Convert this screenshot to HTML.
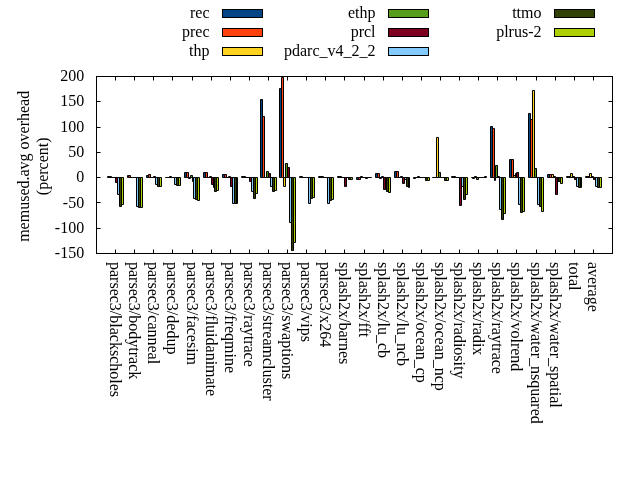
<!DOCTYPE html><html><head><meta charset="utf-8"><style>html,body{margin:0;padding:0;background:#fff;width:640px;height:480px;overflow:hidden;position:relative}</style></head><body><svg width="640" height="480" viewBox="0 0 640 480" style="position:absolute;left:0;top:0;will-change:transform"><rect width="640" height="480" fill="#fff"/><defs><clipPath id="c"><rect x="96.5" y="76.5" width="516.0" height="177.0"/></clipPath></defs><g clip-path="url(#c)"><path d="M107.5 176.5H109.5V177.5H107.5Z" fill="none" stroke="#000" stroke-width="1"/><path d="M127.5 175.5H128.5V177.5H127.5Z" fill="none" stroke="#000" stroke-width="1"/><rect x="146.5" y="175.5" width="2.0" height="2.0" fill="#004586"/><path d="M146.5 175.5H148.5V177.5H146.5Z" fill="none" stroke="#000" stroke-width="1"/><path d="M165.5 177.5H167.5V177.5H165.5Z" fill="none" stroke="#000" stroke-width="1"/><rect x="184.5" y="172.5" width="2.0" height="5.0" fill="#004586"/><path d="M184.5 172.5H186.5V177.5H184.5Z" fill="none" stroke="#000" stroke-width="1"/><rect x="203.5" y="172.5" width="2.0" height="5.0" fill="#004586"/><path d="M203.5 172.5H205.5V177.5H203.5Z" fill="none" stroke="#000" stroke-width="1"/><rect x="222.5" y="174.5" width="2.0" height="3.0" fill="#004586"/><path d="M222.5 174.5H224.5V177.5H222.5Z" fill="none" stroke="#000" stroke-width="1"/><path d="M241.5 176.5H243.5V177.5H241.5Z" fill="none" stroke="#000" stroke-width="1"/><rect x="260.5" y="99.5" width="2.0" height="78.0" fill="#004586"/><path d="M260.5 99.5H262.5V177.5H260.5Z" fill="none" stroke="#000" stroke-width="1"/><rect x="279.5" y="88.5" width="2.0" height="89.0" fill="#004586"/><path d="M279.5 88.5H281.5V177.5H279.5Z" fill="none" stroke="#000" stroke-width="1"/><path d="M299.5 176.5H300.5V177.5H299.5Z" fill="none" stroke="#000" stroke-width="1"/><path d="M318.5 176.5H320.5V177.5H318.5Z" fill="none" stroke="#000" stroke-width="1"/><path d="M337.5 176.5H339.5V177.5H337.5Z" fill="none" stroke="#000" stroke-width="1"/><rect x="356.5" y="177.5" width="2.0" height="2.0" fill="#004586"/><path d="M356.5 177.5H358.5V179.5H356.5Z" fill="none" stroke="#000" stroke-width="1"/><rect x="375.5" y="173.5" width="2.0" height="4.0" fill="#004586"/><path d="M375.5 173.5H377.5V177.5H375.5Z" fill="none" stroke="#000" stroke-width="1"/><rect x="394.5" y="171.5" width="2.0" height="6.0" fill="#004586"/><path d="M394.5 171.5H396.5V177.5H394.5Z" fill="none" stroke="#000" stroke-width="1"/><path d="M413.5 177.5H415.5V178.5H413.5Z" fill="none" stroke="#000" stroke-width="1"/><path d="M432.5 177.5H434.5V177.5H432.5Z" fill="none" stroke="#000" stroke-width="1"/><path d="M451.5 176.5H453.5V177.5H451.5Z" fill="none" stroke="#000" stroke-width="1"/><path d="M471.5 177.5H472.5V177.5H471.5Z" fill="none" stroke="#000" stroke-width="1"/><rect x="490.5" y="126.5" width="2.0" height="51.0" fill="#004586"/><path d="M490.5 126.5H492.5V177.5H490.5Z" fill="none" stroke="#000" stroke-width="1"/><rect x="509.5" y="159.5" width="2.0" height="18.0" fill="#004586"/><path d="M509.5 159.5H511.5V177.5H509.5Z" fill="none" stroke="#000" stroke-width="1"/><rect x="528.5" y="113.5" width="2.0" height="64.0" fill="#004586"/><path d="M528.5 113.5H530.5V177.5H528.5Z" fill="none" stroke="#000" stroke-width="1"/><rect x="547.5" y="174.5" width="2.0" height="3.0" fill="#004586"/><path d="M547.5 174.5H549.5V177.5H547.5Z" fill="none" stroke="#000" stroke-width="1"/><path d="M566.5 176.5H568.5V177.5H566.5Z" fill="none" stroke="#000" stroke-width="1"/><path d="M585.5 176.5H587.5V177.5H585.5Z" fill="none" stroke="#000" stroke-width="1"/><path d="M109.5 176.5H111.5V177.5H109.5Z" fill="none" stroke="#000" stroke-width="1"/><rect x="128.5" y="175.5" width="2.0" height="2.0" fill="#ff420e"/><path d="M128.5 175.5H130.5V177.5H128.5Z" fill="none" stroke="#000" stroke-width="1"/><rect x="148.5" y="174.5" width="2.0" height="3.0" fill="#ff420e"/><path d="M148.5 174.5H150.5V177.5H148.5Z" fill="none" stroke="#000" stroke-width="1"/><path d="M167.5 177.5H169.5V177.5H167.5Z" fill="none" stroke="#000" stroke-width="1"/><rect x="186.5" y="172.5" width="2.0" height="5.0" fill="#ff420e"/><path d="M186.5 172.5H188.5V177.5H186.5Z" fill="none" stroke="#000" stroke-width="1"/><rect x="205.5" y="172.5" width="2.0" height="5.0" fill="#ff420e"/><path d="M205.5 172.5H207.5V177.5H205.5Z" fill="none" stroke="#000" stroke-width="1"/><rect x="224.5" y="174.5" width="2.0" height="3.0" fill="#ff420e"/><path d="M224.5 174.5H226.5V177.5H224.5Z" fill="none" stroke="#000" stroke-width="1"/><path d="M243.5 176.5H245.5V177.5H243.5Z" fill="none" stroke="#000" stroke-width="1"/><rect x="262.5" y="116.5" width="2.0" height="61.0" fill="#ff420e"/><path d="M262.5 116.5H264.5V177.5H262.5Z" fill="none" stroke="#000" stroke-width="1"/><rect x="281.5" y="77.5" width="2.0" height="100.0" fill="#ff420e"/><path d="M281.5 77.5H283.5V177.5H281.5Z" fill="none" stroke="#000" stroke-width="1"/><path d="M300.5 176.5H302.5V177.5H300.5Z" fill="none" stroke="#000" stroke-width="1"/><path d="M320.5 176.5H322.5V177.5H320.5Z" fill="none" stroke="#000" stroke-width="1"/><path d="M339.5 176.5H341.5V177.5H339.5Z" fill="none" stroke="#000" stroke-width="1"/><rect x="358.5" y="177.5" width="2.0" height="2.0" fill="#ff420e"/><path d="M358.5 177.5H360.5V179.5H358.5Z" fill="none" stroke="#000" stroke-width="1"/><rect x="377.5" y="173.5" width="2.0" height="4.0" fill="#ff420e"/><path d="M377.5 173.5H379.5V177.5H377.5Z" fill="none" stroke="#000" stroke-width="1"/><rect x="396.5" y="171.5" width="2.0" height="6.0" fill="#ff420e"/><path d="M396.5 171.5H398.5V177.5H396.5Z" fill="none" stroke="#000" stroke-width="1"/><path d="M415.5 177.5H417.5V177.5H415.5Z" fill="none" stroke="#000" stroke-width="1"/><path d="M434.5 177.5H436.5V177.5H434.5Z" fill="none" stroke="#000" stroke-width="1"/><path d="M453.5 176.5H455.5V177.5H453.5Z" fill="none" stroke="#000" stroke-width="1"/><path d="M472.5 177.5H474.5V178.5H472.5Z" fill="none" stroke="#000" stroke-width="1"/><rect x="492.5" y="128.5" width="2.0" height="49.0" fill="#ff420e"/><path d="M492.5 128.5H494.5V177.5H492.5Z" fill="none" stroke="#000" stroke-width="1"/><rect x="511.5" y="159.5" width="2.0" height="18.0" fill="#ff420e"/><path d="M511.5 159.5H513.5V177.5H511.5Z" fill="none" stroke="#000" stroke-width="1"/><rect x="530.5" y="119.5" width="2.0" height="58.0" fill="#ff420e"/><path d="M530.5 119.5H532.5V177.5H530.5Z" fill="none" stroke="#000" stroke-width="1"/><rect x="549.5" y="174.5" width="2.0" height="3.0" fill="#ff420e"/><path d="M549.5 174.5H551.5V177.5H549.5Z" fill="none" stroke="#000" stroke-width="1"/><path d="M568.5 176.5H570.5V177.5H568.5Z" fill="none" stroke="#000" stroke-width="1"/><path d="M587.5 176.5H589.5V177.5H587.5Z" fill="none" stroke="#000" stroke-width="1"/><path d="M111.5 177.5H113.5V177.5H111.5Z" fill="none" stroke="#000" stroke-width="1"/><path d="M130.5 177.5H132.5V177.5H130.5Z" fill="none" stroke="#000" stroke-width="1"/><path d="M150.5 177.5H151.5V177.5H150.5Z" fill="none" stroke="#000" stroke-width="1"/><path d="M169.5 176.5H171.5V177.5H169.5Z" fill="none" stroke="#000" stroke-width="1"/><path d="M188.5 177.5H190.5V178.5H188.5Z" fill="none" stroke="#000" stroke-width="1"/><path d="M207.5 177.5H209.5V177.5H207.5Z" fill="none" stroke="#000" stroke-width="1"/><path d="M226.5 177.5H228.5V177.5H226.5Z" fill="none" stroke="#000" stroke-width="1"/><path d="M245.5 177.5H247.5V177.5H245.5Z" fill="none" stroke="#000" stroke-width="1"/><path d="M264.5 177.5H266.5V177.5H264.5Z" fill="none" stroke="#000" stroke-width="1"/><rect x="283.5" y="177.5" width="2.0" height="9.0" fill="#ffd320"/><path d="M283.5 177.5H285.5V186.5H283.5Z" fill="none" stroke="#000" stroke-width="1"/><path d="M302.5 177.5H304.5V177.5H302.5Z" fill="none" stroke="#000" stroke-width="1"/><path d="M322.5 176.5H323.5V177.5H322.5Z" fill="none" stroke="#000" stroke-width="1"/><path d="M341.5 177.5H343.5V177.5H341.5Z" fill="none" stroke="#000" stroke-width="1"/><path d="M360.5 176.5H362.5V177.5H360.5Z" fill="none" stroke="#000" stroke-width="1"/><path d="M379.5 177.5H381.5V178.5H379.5Z" fill="none" stroke="#000" stroke-width="1"/><path d="M398.5 177.5H400.5V177.5H398.5Z" fill="none" stroke="#000" stroke-width="1"/><path d="M417.5 176.5H419.5V177.5H417.5Z" fill="none" stroke="#000" stroke-width="1"/><rect x="436.5" y="137.5" width="2.0" height="40.0" fill="#ffd320"/><path d="M436.5 137.5H438.5V177.5H436.5Z" fill="none" stroke="#000" stroke-width="1"/><path d="M455.5 177.5H457.5V177.5H455.5Z" fill="none" stroke="#000" stroke-width="1"/><path d="M474.5 176.5H476.5V177.5H474.5Z" fill="none" stroke="#000" stroke-width="1"/><path d="M494.5 177.5H495.5V180.5H494.5Z" fill="none" stroke="#000" stroke-width="1"/><rect x="513.5" y="175.5" width="2.0" height="2.0" fill="#ffd320"/><path d="M513.5 175.5H515.5V177.5H513.5Z" fill="none" stroke="#000" stroke-width="1"/><rect x="532.5" y="90.5" width="2.0" height="87.0" fill="#ffd320"/><path d="M532.5 90.5H534.5V177.5H532.5Z" fill="none" stroke="#000" stroke-width="1"/><rect x="551.5" y="174.5" width="2.0" height="3.0" fill="#ffd320"/><path d="M551.5 174.5H553.5V177.5H551.5Z" fill="none" stroke="#000" stroke-width="1"/><rect x="570.5" y="173.5" width="2.0" height="4.0" fill="#ffd320"/><path d="M570.5 173.5H572.5V177.5H570.5Z" fill="none" stroke="#000" stroke-width="1"/><rect x="589.5" y="173.5" width="2.0" height="4.0" fill="#ffd320"/><path d="M589.5 173.5H591.5V177.5H589.5Z" fill="none" stroke="#000" stroke-width="1"/><path d="M113.5 177.5H115.5V177.5H113.5Z" fill="none" stroke="#000" stroke-width="1"/><path d="M132.5 177.5H134.5V177.5H132.5Z" fill="none" stroke="#000" stroke-width="1"/><path d="M151.5 177.5H153.5V177.5H151.5Z" fill="none" stroke="#000" stroke-width="1"/><path d="M171.5 177.5H172.5V177.5H171.5Z" fill="none" stroke="#000" stroke-width="1"/><rect x="190.5" y="175.5" width="2.0" height="2.0" fill="#579d1c"/><path d="M190.5 175.5H192.5V177.5H190.5Z" fill="none" stroke="#000" stroke-width="1"/><path d="M209.5 176.5H211.5V177.5H209.5Z" fill="none" stroke="#000" stroke-width="1"/><path d="M228.5 176.5H230.5V177.5H228.5Z" fill="none" stroke="#000" stroke-width="1"/><path d="M247.5 177.5H249.5V177.5H247.5Z" fill="none" stroke="#000" stroke-width="1"/><rect x="266.5" y="171.5" width="2.0" height="6.0" fill="#579d1c"/><path d="M266.5 171.5H268.5V177.5H266.5Z" fill="none" stroke="#000" stroke-width="1"/><rect x="285.5" y="163.5" width="2.0" height="14.0" fill="#579d1c"/><path d="M285.5 163.5H287.5V177.5H285.5Z" fill="none" stroke="#000" stroke-width="1"/><path d="M304.5 177.5H306.5V177.5H304.5Z" fill="none" stroke="#000" stroke-width="1"/><path d="M323.5 177.5H325.5V177.5H323.5Z" fill="none" stroke="#000" stroke-width="1"/><path d="M343.5 177.5H344.5V177.5H343.5Z" fill="none" stroke="#000" stroke-width="1"/><path d="M362.5 177.5H364.5V177.5H362.5Z" fill="none" stroke="#000" stroke-width="1"/><path d="M381.5 176.5H383.5V177.5H381.5Z" fill="none" stroke="#000" stroke-width="1"/><path d="M400.5 176.5H402.5V177.5H400.5Z" fill="none" stroke="#000" stroke-width="1"/><path d="M419.5 177.5H421.5V177.5H419.5Z" fill="none" stroke="#000" stroke-width="1"/><rect x="438.5" y="172.5" width="2.0" height="5.0" fill="#579d1c"/><path d="M438.5 172.5H440.5V177.5H438.5Z" fill="none" stroke="#000" stroke-width="1"/><path d="M457.5 177.5H459.5V177.5H457.5Z" fill="none" stroke="#000" stroke-width="1"/><rect x="476.5" y="177.5" width="2.0" height="2.0" fill="#579d1c"/><path d="M476.5 177.5H478.5V179.5H476.5Z" fill="none" stroke="#000" stroke-width="1"/><rect x="495.5" y="165.5" width="2.0" height="12.0" fill="#579d1c"/><path d="M495.5 165.5H497.5V177.5H495.5Z" fill="none" stroke="#000" stroke-width="1"/><path d="M515.5 173.5H516.5V177.5H515.5Z" fill="none" stroke="#000" stroke-width="1"/><rect x="534.5" y="168.5" width="2.0" height="9.0" fill="#579d1c"/><path d="M534.5 168.5H536.5V177.5H534.5Z" fill="none" stroke="#000" stroke-width="1"/><path d="M553.5 176.5H555.5V177.5H553.5Z" fill="none" stroke="#000" stroke-width="1"/><path d="M572.5 176.5H574.5V177.5H572.5Z" fill="none" stroke="#000" stroke-width="1"/><path d="M591.5 176.5H593.5V177.5H591.5Z" fill="none" stroke="#000" stroke-width="1"/><rect x="115.5" y="177.5" width="2.0" height="5.0" fill="#7e0021"/><path d="M115.5 177.5H117.5V182.5H115.5Z" fill="none" stroke="#000" stroke-width="1"/><path d="M134.5 177.5H136.5V177.5H134.5Z" fill="none" stroke="#000" stroke-width="1"/><path d="M153.5 176.5H155.5V177.5H153.5Z" fill="none" stroke="#000" stroke-width="1"/><path d="M172.5 177.5H174.5V177.5H172.5Z" fill="none" stroke="#000" stroke-width="1"/><path d="M192.5 177.5H193.5V181.5H192.5Z" fill="none" stroke="#000" stroke-width="1"/><rect x="211.5" y="177.5" width="2.0" height="7.0" fill="#7e0021"/><path d="M211.5 177.5H213.5V184.5H211.5Z" fill="none" stroke="#000" stroke-width="1"/><rect x="230.5" y="177.5" width="2.0" height="9.0" fill="#7e0021"/><path d="M230.5 177.5H232.5V186.5H230.5Z" fill="none" stroke="#000" stroke-width="1"/><rect x="249.5" y="177.5" width="2.0" height="4.0" fill="#7e0021"/><path d="M249.5 177.5H251.5V181.5H249.5Z" fill="none" stroke="#000" stroke-width="1"/><rect x="268.5" y="173.5" width="2.0" height="4.0" fill="#7e0021"/><path d="M268.5 173.5H270.5V177.5H268.5Z" fill="none" stroke="#000" stroke-width="1"/><rect x="287.5" y="167.5" width="2.0" height="10.0" fill="#7e0021"/><path d="M287.5 167.5H289.5V177.5H287.5Z" fill="none" stroke="#000" stroke-width="1"/><path d="M306.5 177.5H308.5V177.5H306.5Z" fill="none" stroke="#000" stroke-width="1"/><path d="M325.5 177.5H327.5V177.5H325.5Z" fill="none" stroke="#000" stroke-width="1"/><rect x="344.5" y="177.5" width="2.0" height="9.0" fill="#7e0021"/><path d="M344.5 177.5H346.5V186.5H344.5Z" fill="none" stroke="#000" stroke-width="1"/><path d="M364.5 177.5H365.5V177.5H364.5Z" fill="none" stroke="#000" stroke-width="1"/><rect x="383.5" y="177.5" width="2.0" height="12.0" fill="#7e0021"/><path d="M383.5 177.5H385.5V189.5H383.5Z" fill="none" stroke="#000" stroke-width="1"/><rect x="402.5" y="177.5" width="2.0" height="6.0" fill="#7e0021"/><path d="M402.5 177.5H404.5V183.5H402.5Z" fill="none" stroke="#000" stroke-width="1"/><path d="M421.5 177.5H423.5V177.5H421.5Z" fill="none" stroke="#000" stroke-width="1"/><path d="M440.5 177.5H442.5V177.5H440.5Z" fill="none" stroke="#000" stroke-width="1"/><rect x="459.5" y="177.5" width="2.0" height="28.0" fill="#7e0021"/><path d="M459.5 177.5H461.5V205.5H459.5Z" fill="none" stroke="#000" stroke-width="1"/><path d="M478.5 177.5H480.5V177.5H478.5Z" fill="none" stroke="#000" stroke-width="1"/><path d="M497.5 176.5H499.5V177.5H497.5Z" fill="none" stroke="#000" stroke-width="1"/><rect x="516.5" y="172.5" width="2.0" height="5.0" fill="#7e0021"/><path d="M516.5 172.5H518.5V177.5H516.5Z" fill="none" stroke="#000" stroke-width="1"/><path d="M536.5 177.5H537.5V177.5H536.5Z" fill="none" stroke="#000" stroke-width="1"/><rect x="555.5" y="177.5" width="2.0" height="17.0" fill="#7e0021"/><path d="M555.5 177.5H557.5V194.5H555.5Z" fill="none" stroke="#000" stroke-width="1"/><rect x="574.5" y="177.5" width="2.0" height="2.0" fill="#7e0021"/><path d="M574.5 177.5H576.5V179.5H574.5Z" fill="none" stroke="#000" stroke-width="1"/><rect x="593.5" y="177.5" width="2.0" height="2.0" fill="#7e0021"/><path d="M593.5 177.5H595.5V179.5H593.5Z" fill="none" stroke="#000" stroke-width="1"/><rect x="117.5" y="177.5" width="2.0" height="17.0" fill="#83caff"/><path d="M117.5 177.5H119.5V194.5H117.5Z" fill="none" stroke="#000" stroke-width="1"/><rect x="136.5" y="177.5" width="2.0" height="29.0" fill="#83caff"/><path d="M136.5 177.5H138.5V206.5H136.5Z" fill="none" stroke="#000" stroke-width="1"/><rect x="155.5" y="177.5" width="2.0" height="7.0" fill="#83caff"/><path d="M155.5 177.5H157.5V184.5H155.5Z" fill="none" stroke="#000" stroke-width="1"/><rect x="174.5" y="177.5" width="2.0" height="7.0" fill="#83caff"/><path d="M174.5 177.5H176.5V184.5H174.5Z" fill="none" stroke="#000" stroke-width="1"/><rect x="193.5" y="177.5" width="2.0" height="21.0" fill="#83caff"/><path d="M193.5 177.5H195.5V198.5H193.5Z" fill="none" stroke="#000" stroke-width="1"/><path d="M213.5 177.5H214.5V187.5H213.5Z" fill="none" stroke="#000" stroke-width="1"/><rect x="232.5" y="177.5" width="2.0" height="26.0" fill="#83caff"/><path d="M232.5 177.5H234.5V203.5H232.5Z" fill="none" stroke="#000" stroke-width="1"/><rect x="251.5" y="177.5" width="2.0" height="14.0" fill="#83caff"/><path d="M251.5 177.5H253.5V191.5H251.5Z" fill="none" stroke="#000" stroke-width="1"/><rect x="270.5" y="177.5" width="2.0" height="9.0" fill="#83caff"/><path d="M270.5 177.5H272.5V186.5H270.5Z" fill="none" stroke="#000" stroke-width="1"/><rect x="289.5" y="177.5" width="2.0" height="45.0" fill="#83caff"/><path d="M289.5 177.5H291.5V222.5H289.5Z" fill="none" stroke="#000" stroke-width="1"/><rect x="308.5" y="177.5" width="2.0" height="26.0" fill="#83caff"/><path d="M308.5 177.5H310.5V203.5H308.5Z" fill="none" stroke="#000" stroke-width="1"/><rect x="327.5" y="177.5" width="2.0" height="26.0" fill="#83caff"/><path d="M327.5 177.5H329.5V203.5H327.5Z" fill="none" stroke="#000" stroke-width="1"/><path d="M346.5 177.5H348.5V177.5H346.5Z" fill="none" stroke="#000" stroke-width="1"/><path d="M365.5 177.5H367.5V178.5H365.5Z" fill="none" stroke="#000" stroke-width="1"/><path d="M385.5 177.5H386.5V189.5H385.5Z" fill="none" stroke="#000" stroke-width="1"/><rect x="404.5" y="177.5" width="2.0" height="2.0" fill="#83caff"/><path d="M404.5 177.5H406.5V179.5H404.5Z" fill="none" stroke="#000" stroke-width="1"/><path d="M423.5 177.5H425.5V177.5H423.5Z" fill="none" stroke="#000" stroke-width="1"/><path d="M442.5 177.5H444.5V177.5H442.5Z" fill="none" stroke="#000" stroke-width="1"/><rect x="461.5" y="177.5" width="2.0" height="9.0" fill="#83caff"/><path d="M461.5 177.5H463.5V186.5H461.5Z" fill="none" stroke="#000" stroke-width="1"/><path d="M480.5 177.5H482.5V177.5H480.5Z" fill="none" stroke="#000" stroke-width="1"/><rect x="499.5" y="177.5" width="2.0" height="32.0" fill="#83caff"/><path d="M499.5 177.5H501.5V209.5H499.5Z" fill="none" stroke="#000" stroke-width="1"/><rect x="518.5" y="177.5" width="2.0" height="27.0" fill="#83caff"/><path d="M518.5 177.5H520.5V204.5H518.5Z" fill="none" stroke="#000" stroke-width="1"/><rect x="537.5" y="177.5" width="2.0" height="27.0" fill="#83caff"/><path d="M537.5 177.5H539.5V204.5H537.5Z" fill="none" stroke="#000" stroke-width="1"/><path d="M557.5 177.5H558.5V181.5H557.5Z" fill="none" stroke="#000" stroke-width="1"/><rect x="576.5" y="177.5" width="2.0" height="9.0" fill="#83caff"/><path d="M576.5 177.5H578.5V186.5H576.5Z" fill="none" stroke="#000" stroke-width="1"/><rect x="595.5" y="177.5" width="2.0" height="9.0" fill="#83caff"/><path d="M595.5 177.5H597.5V186.5H595.5Z" fill="none" stroke="#000" stroke-width="1"/><rect x="119.5" y="177.5" width="2.0" height="29.0" fill="#314004"/><path d="M119.5 177.5H121.5V206.5H119.5Z" fill="none" stroke="#000" stroke-width="1"/><rect x="138.5" y="177.5" width="2.0" height="30.0" fill="#314004"/><path d="M138.5 177.5H140.5V207.5H138.5Z" fill="none" stroke="#000" stroke-width="1"/><rect x="157.5" y="177.5" width="2.0" height="9.0" fill="#314004"/><path d="M157.5 177.5H159.5V186.5H157.5Z" fill="none" stroke="#000" stroke-width="1"/><rect x="176.5" y="177.5" width="2.0" height="8.0" fill="#314004"/><path d="M176.5 177.5H178.5V185.5H176.5Z" fill="none" stroke="#000" stroke-width="1"/><rect x="195.5" y="177.5" width="2.0" height="22.0" fill="#314004"/><path d="M195.5 177.5H197.5V199.5H195.5Z" fill="none" stroke="#000" stroke-width="1"/><rect x="214.5" y="177.5" width="2.0" height="14.0" fill="#314004"/><path d="M214.5 177.5H216.5V191.5H214.5Z" fill="none" stroke="#000" stroke-width="1"/><rect x="234.5" y="177.5" width="2.0" height="26.0" fill="#314004"/><path d="M234.5 177.5H236.5V203.5H234.5Z" fill="none" stroke="#000" stroke-width="1"/><rect x="253.5" y="177.5" width="2.0" height="21.0" fill="#314004"/><path d="M253.5 177.5H255.5V198.5H253.5Z" fill="none" stroke="#000" stroke-width="1"/><rect x="272.5" y="177.5" width="2.0" height="14.0" fill="#314004"/><path d="M272.5 177.5H274.5V191.5H272.5Z" fill="none" stroke="#000" stroke-width="1"/><rect x="291.5" y="177.5" width="2.0" height="73.0" fill="#314004"/><path d="M291.5 177.5H293.5V250.5H291.5Z" fill="none" stroke="#000" stroke-width="1"/><rect x="310.5" y="177.5" width="2.0" height="21.0" fill="#314004"/><path d="M310.5 177.5H312.5V198.5H310.5Z" fill="none" stroke="#000" stroke-width="1"/><rect x="329.5" y="177.5" width="2.0" height="23.0" fill="#314004"/><path d="M329.5 177.5H331.5V200.5H329.5Z" fill="none" stroke="#000" stroke-width="1"/><rect x="348.5" y="177.5" width="2.0" height="2.0" fill="#314004"/><path d="M348.5 177.5H350.5V179.5H348.5Z" fill="none" stroke="#000" stroke-width="1"/><path d="M367.5 177.5H369.5V177.5H367.5Z" fill="none" stroke="#000" stroke-width="1"/><rect x="386.5" y="177.5" width="2.0" height="14.0" fill="#314004"/><path d="M386.5 177.5H388.5V191.5H386.5Z" fill="none" stroke="#000" stroke-width="1"/><rect x="406.5" y="177.5" width="2.0" height="9.0" fill="#314004"/><path d="M406.5 177.5H408.5V186.5H406.5Z" fill="none" stroke="#000" stroke-width="1"/><rect x="425.5" y="177.5" width="2.0" height="3.0" fill="#314004"/><path d="M425.5 177.5H427.5V180.5H425.5Z" fill="none" stroke="#000" stroke-width="1"/><rect x="444.5" y="177.5" width="2.0" height="3.0" fill="#314004"/><path d="M444.5 177.5H446.5V180.5H444.5Z" fill="none" stroke="#000" stroke-width="1"/><rect x="463.5" y="177.5" width="2.0" height="22.0" fill="#314004"/><path d="M463.5 177.5H465.5V199.5H463.5Z" fill="none" stroke="#000" stroke-width="1"/><path d="M482.5 177.5H484.5V177.5H482.5Z" fill="none" stroke="#000" stroke-width="1"/><rect x="501.5" y="177.5" width="2.0" height="42.0" fill="#314004"/><path d="M501.5 177.5H503.5V219.5H501.5Z" fill="none" stroke="#000" stroke-width="1"/><rect x="520.5" y="177.5" width="2.0" height="35.0" fill="#314004"/><path d="M520.5 177.5H522.5V212.5H520.5Z" fill="none" stroke="#000" stroke-width="1"/><rect x="539.5" y="177.5" width="2.0" height="29.0" fill="#314004"/><path d="M539.5 177.5H541.5V206.5H539.5Z" fill="none" stroke="#000" stroke-width="1"/><rect x="558.5" y="177.5" width="2.0" height="4.0" fill="#314004"/><path d="M558.5 177.5H560.5V181.5H558.5Z" fill="none" stroke="#000" stroke-width="1"/><rect x="578.5" y="177.5" width="2.0" height="10.0" fill="#314004"/><path d="M578.5 177.5H580.5V187.5H578.5Z" fill="none" stroke="#000" stroke-width="1"/><rect x="597.5" y="177.5" width="2.0" height="10.0" fill="#314004"/><path d="M597.5 177.5H599.5V187.5H597.5Z" fill="none" stroke="#000" stroke-width="1"/><rect x="121.5" y="177.5" width="2.0" height="27.0" fill="#aecf00"/><path d="M121.5 177.5H123.5V204.5H121.5Z" fill="none" stroke="#000" stroke-width="1"/><rect x="140.5" y="177.5" width="2.0" height="30.0" fill="#aecf00"/><path d="M140.5 177.5H142.5V207.5H140.5Z" fill="none" stroke="#000" stroke-width="1"/><rect x="159.5" y="177.5" width="2.0" height="9.0" fill="#aecf00"/><path d="M159.5 177.5H161.5V186.5H159.5Z" fill="none" stroke="#000" stroke-width="1"/><rect x="178.5" y="177.5" width="2.0" height="8.0" fill="#aecf00"/><path d="M178.5 177.5H180.5V185.5H178.5Z" fill="none" stroke="#000" stroke-width="1"/><rect x="197.5" y="177.5" width="2.0" height="23.0" fill="#aecf00"/><path d="M197.5 177.5H199.5V200.5H197.5Z" fill="none" stroke="#000" stroke-width="1"/><rect x="216.5" y="177.5" width="2.0" height="13.0" fill="#aecf00"/><path d="M216.5 177.5H218.5V190.5H216.5Z" fill="none" stroke="#000" stroke-width="1"/><path d="M236.5 177.5H237.5V203.5H236.5Z" fill="none" stroke="#000" stroke-width="1"/><rect x="255.5" y="177.5" width="2.0" height="16.0" fill="#aecf00"/><path d="M255.5 177.5H257.5V193.5H255.5Z" fill="none" stroke="#000" stroke-width="1"/><rect x="274.5" y="177.5" width="2.0" height="13.0" fill="#aecf00"/><path d="M274.5 177.5H276.5V190.5H274.5Z" fill="none" stroke="#000" stroke-width="1"/><rect x="293.5" y="177.5" width="2.0" height="65.0" fill="#aecf00"/><path d="M293.5 177.5H295.5V242.5H293.5Z" fill="none" stroke="#000" stroke-width="1"/><rect x="312.5" y="177.5" width="2.0" height="20.0" fill="#aecf00"/><path d="M312.5 177.5H314.5V197.5H312.5Z" fill="none" stroke="#000" stroke-width="1"/><rect x="331.5" y="177.5" width="2.0" height="22.0" fill="#aecf00"/><path d="M331.5 177.5H333.5V199.5H331.5Z" fill="none" stroke="#000" stroke-width="1"/><rect x="350.5" y="177.5" width="2.0" height="2.0" fill="#aecf00"/><path d="M350.5 177.5H352.5V179.5H350.5Z" fill="none" stroke="#000" stroke-width="1"/><path d="M369.5 177.5H371.5V177.5H369.5Z" fill="none" stroke="#000" stroke-width="1"/><rect x="388.5" y="177.5" width="2.0" height="15.0" fill="#aecf00"/><path d="M388.5 177.5H390.5V192.5H388.5Z" fill="none" stroke="#000" stroke-width="1"/><path d="M408.5 177.5H409.5V187.5H408.5Z" fill="none" stroke="#000" stroke-width="1"/><rect x="427.5" y="177.5" width="2.0" height="3.0" fill="#aecf00"/><path d="M427.5 177.5H429.5V180.5H427.5Z" fill="none" stroke="#000" stroke-width="1"/><rect x="446.5" y="177.5" width="2.0" height="3.0" fill="#aecf00"/><path d="M446.5 177.5H448.5V180.5H446.5Z" fill="none" stroke="#000" stroke-width="1"/><rect x="465.5" y="177.5" width="2.0" height="17.0" fill="#aecf00"/><path d="M465.5 177.5H467.5V194.5H465.5Z" fill="none" stroke="#000" stroke-width="1"/><path d="M484.5 176.5H486.5V177.5H484.5Z" fill="none" stroke="#000" stroke-width="1"/><rect x="503.5" y="177.5" width="2.0" height="36.0" fill="#aecf00"/><path d="M503.5 177.5H505.5V213.5H503.5Z" fill="none" stroke="#000" stroke-width="1"/><rect x="522.5" y="177.5" width="2.0" height="34.0" fill="#aecf00"/><path d="M522.5 177.5H524.5V211.5H522.5Z" fill="none" stroke="#000" stroke-width="1"/><rect x="541.5" y="177.5" width="2.0" height="34.0" fill="#aecf00"/><path d="M541.5 177.5H543.5V211.5H541.5Z" fill="none" stroke="#000" stroke-width="1"/><rect x="560.5" y="177.5" width="2.0" height="6.0" fill="#aecf00"/><path d="M560.5 177.5H562.5V183.5H560.5Z" fill="none" stroke="#000" stroke-width="1"/><path d="M580.5 177.5H581.5V187.5H580.5Z" fill="none" stroke="#000" stroke-width="1"/><rect x="599.5" y="177.5" width="2.0" height="10.0" fill="#aecf00"/><path d="M599.5 177.5H601.5V187.5H599.5Z" fill="none" stroke="#000" stroke-width="1"/></g><rect x="96.5" y="76.5" width="516.0" height="177.0" fill="none" stroke="#000" stroke-width="1"/><path d="M96.5 253.5h4M612.5 253.5h-4M96.5 228.5h4M612.5 228.5h-4M96.5 202.5h4M612.5 202.5h-4M96.5 177.5h4M612.5 177.5h-4M96.5 152.5h4M612.5 152.5h-4M96.5 127.5h4M612.5 127.5h-4M96.5 101.5h4M612.5 101.5h-4M96.5 76.5h4M612.5 76.5h-4M115.5 253.5v-4M115.5 76.5v4M134.5 253.5v-4M134.5 76.5v4M153.5 253.5v-4M153.5 76.5v4M172.5 253.5v-4M172.5 76.5v4M192.5 253.5v-4M192.5 76.5v4M211.5 253.5v-4M211.5 76.5v4M230.5 253.5v-4M230.5 76.5v4M249.5 253.5v-4M249.5 76.5v4M268.5 253.5v-4M268.5 76.5v4M287.5 253.5v-4M287.5 76.5v4M306.5 253.5v-4M306.5 76.5v4M325.5 253.5v-4M325.5 76.5v4M344.5 253.5v-4M344.5 76.5v4M364.5 253.5v-4M364.5 76.5v4M383.5 253.5v-4M383.5 76.5v4M402.5 253.5v-4M402.5 76.5v4M421.5 253.5v-4M421.5 76.5v4M440.5 253.5v-4M440.5 76.5v4M459.5 253.5v-4M459.5 76.5v4M478.5 253.5v-4M478.5 76.5v4M497.5 253.5v-4M497.5 76.5v4M516.5 253.5v-4M516.5 76.5v4M536.5 253.5v-4M536.5 76.5v4M555.5 253.5v-4M555.5 76.5v4M574.5 253.5v-4M574.5 76.5v4M593.5 253.5v-4M593.5 76.5v4" stroke="#000" stroke-width="1" fill="none"/><text x="84.2" y="258.1" text-anchor="end" font-family='"Liberation Serif", serif' font-size="16">-150</text><text x="84.2" y="232.8" text-anchor="end" font-family='"Liberation Serif", serif' font-size="16">-100</text><text x="84.2" y="207.5" text-anchor="end" font-family='"Liberation Serif", serif' font-size="16">-50</text><text x="84.2" y="182.2" text-anchor="end" font-family='"Liberation Serif", serif' font-size="16">0</text><text x="84.2" y="157.0" text-anchor="end" font-family='"Liberation Serif", serif' font-size="16">50</text><text x="84.2" y="131.7" text-anchor="end" font-family='"Liberation Serif", serif' font-size="16">100</text><text x="84.2" y="106.4" text-anchor="end" font-family='"Liberation Serif", serif' font-size="16">150</text><text x="84.2" y="81.1" text-anchor="end" font-family='"Liberation Serif", serif' font-size="16">200</text><text transform="translate(110.3,262) rotate(90)" font-family='"Liberation Serif", serif' font-size="16">parsec3/blackscholes</text><text transform="translate(129.3,262) rotate(90)" font-family='"Liberation Serif", serif' font-size="16">parsec3/bodytrack</text><text transform="translate(148.3,262) rotate(90)" font-family='"Liberation Serif", serif' font-size="16">parsec3/canneal</text><text transform="translate(167.3,262) rotate(90)" font-family='"Liberation Serif", serif' font-size="16">parsec3/dedup</text><text transform="translate(187.3,262) rotate(90)" font-family='"Liberation Serif", serif' font-size="16">parsec3/facesim</text><text transform="translate(206.3,262) rotate(90)" font-family='"Liberation Serif", serif' font-size="16">parsec3/fluidanimate</text><text transform="translate(225.3,262) rotate(90)" font-family='"Liberation Serif", serif' font-size="16">parsec3/freqmine</text><text transform="translate(244.3,262) rotate(90)" font-family='"Liberation Serif", serif' font-size="16">parsec3/raytrace</text><text transform="translate(263.3,262) rotate(90)" font-family='"Liberation Serif", serif' font-size="16">parsec3/streamcluster</text><text transform="translate(282.3,262) rotate(90)" font-family='"Liberation Serif", serif' font-size="16">parsec3/swaptions</text><text transform="translate(301.3,262) rotate(90)" font-family='"Liberation Serif", serif' font-size="16">parsec3/vips</text><text transform="translate(320.3,262) rotate(90)" font-family='"Liberation Serif", serif' font-size="16">parsec3/x264</text><text transform="translate(339.3,262) rotate(90)" font-family='"Liberation Serif", serif' font-size="16">splash2x/barnes</text><text transform="translate(359.3,262) rotate(90)" font-family='"Liberation Serif", serif' font-size="16">splash2x/fft</text><text transform="translate(378.3,262) rotate(90)" font-family='"Liberation Serif", serif' font-size="16">splash2x/lu_cb</text><text transform="translate(397.3,262) rotate(90)" font-family='"Liberation Serif", serif' font-size="16">splash2x/lu_ncb</text><text transform="translate(416.3,262) rotate(90)" font-family='"Liberation Serif", serif' font-size="16">splash2x/ocean_cp</text><text transform="translate(435.3,262) rotate(90)" font-family='"Liberation Serif", serif' font-size="16">splash2x/ocean_ncp</text><text transform="translate(454.3,262) rotate(90)" font-family='"Liberation Serif", serif' font-size="16">splash2x/radiosity</text><text transform="translate(473.3,262) rotate(90)" font-family='"Liberation Serif", serif' font-size="16">splash2x/radix</text><text transform="translate(492.3,262) rotate(90)" font-family='"Liberation Serif", serif' font-size="16">splash2x/raytrace</text><text transform="translate(511.3,262) rotate(90)" font-family='"Liberation Serif", serif' font-size="16">splash2x/volrend</text><text transform="translate(531.3,262) rotate(90)" font-family='"Liberation Serif", serif' font-size="16">splash2x/water_nsquared</text><text transform="translate(550.3,262) rotate(90)" font-family='"Liberation Serif", serif' font-size="16">splash2x/water_spatial</text><text transform="translate(569.3,262) rotate(90)" font-family='"Liberation Serif", serif' font-size="16">total</text><text transform="translate(588.3,262) rotate(90)" font-family='"Liberation Serif", serif' font-size="16">average</text><text transform="translate(29.3,166.3) rotate(-90)" text-anchor="middle" font-family='"Liberation Serif", serif' font-size="16">memused.avg overhead</text><text transform="translate(47.7,166.3) rotate(-90)" text-anchor="middle" font-family='"Liberation Serif", serif' font-size="16">(percent)</text><rect x="222.5" y="9.5" width="40" height="8" fill="#004586" stroke="#000" stroke-width="1"/><text x="209.5" y="18.0" text-anchor="end" font-family='"Liberation Serif", serif' font-size="16">rec</text><rect x="222.5" y="28.5" width="40" height="8" fill="#ff420e" stroke="#000" stroke-width="1"/><text x="209.5" y="37.0" text-anchor="end" font-family='"Liberation Serif", serif' font-size="16">prec</text><rect x="222.5" y="47.5" width="40" height="8" fill="#ffd320" stroke="#000" stroke-width="1"/><text x="209.5" y="56.0" text-anchor="end" font-family='"Liberation Serif", serif' font-size="16">thp</text><rect x="388.5" y="9.5" width="40" height="8" fill="#579d1c" stroke="#000" stroke-width="1"/><text x="375.5" y="18.0" text-anchor="end" font-family='"Liberation Serif", serif' font-size="16">ethp</text><rect x="388.5" y="28.5" width="40" height="8" fill="#7e0021" stroke="#000" stroke-width="1"/><text x="375.5" y="37.0" text-anchor="end" font-family='"Liberation Serif", serif' font-size="16">prcl</text><rect x="388.5" y="47.5" width="40" height="8" fill="#83caff" stroke="#000" stroke-width="1"/><text x="375.5" y="56.0" text-anchor="end" font-family='"Liberation Serif", serif' font-size="16">pdarc_v4_2_2</text><rect x="554.5" y="9.5" width="40" height="8" fill="#314004" stroke="#000" stroke-width="1"/><text x="541.5" y="18.0" text-anchor="end" font-family='"Liberation Serif", serif' font-size="16">ttmo</text><rect x="554.5" y="28.5" width="40" height="8" fill="#aecf00" stroke="#000" stroke-width="1"/><text x="541.5" y="37.0" text-anchor="end" font-family='"Liberation Serif", serif' font-size="16">plrus-2</text></svg></body></html>
